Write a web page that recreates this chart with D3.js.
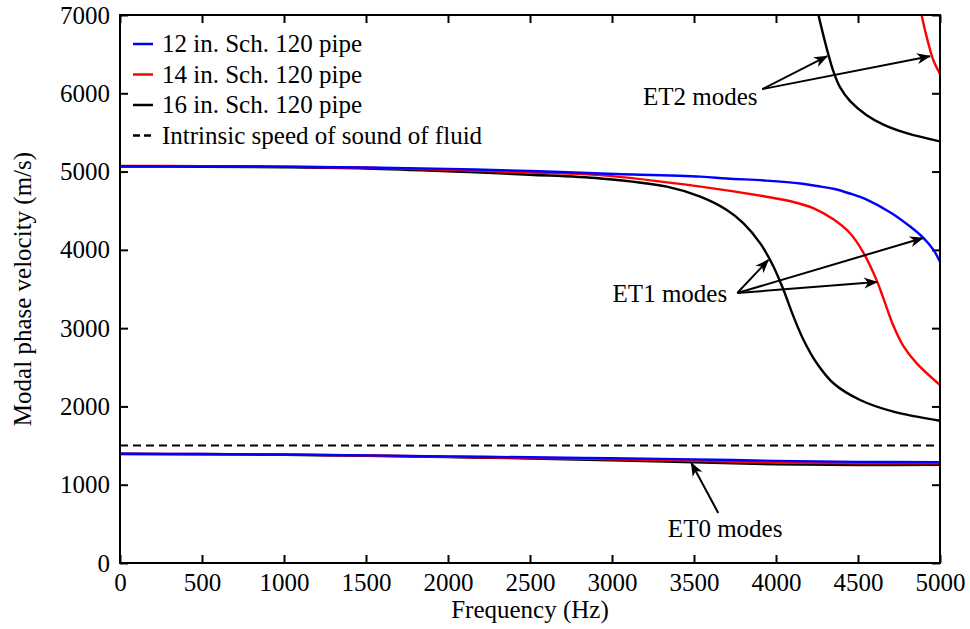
<!DOCTYPE html>
<html>
<head>
<meta charset="utf-8">
<script src="https://cdn.jsdelivr.net/npm/d3@7/dist/d3.min.js"></script>
<style>
  body { margin: 0; background: #fff; }
  svg text { font-family: "Liberation Serif", "Tinos", "Times New Roman", "DejaVu Serif", serif !important; font-size: 25px !important; fill: #000; }
</style>
</head>
<body>
<script>
// values
let xTicks = [0, 500, 1000, 1500, 2000, 2500, 3000, 3500, 4000, 4500, 5000]
let yTicks = [0, 1000, 2000, 3000, 4000, 5000, 6000, 7000]

let seriesNames = ["12 in. Sch. 120 pipe", "14 in. Sch. 120 pipe", "16 in. Sch. 120 pipe"]
let seriesColors = ["#0000ff", "#ff0000", "#000000"]
let fluidSpeed = 1500
let fluidLabel = "Intrinsic speed of sound of fluid"

// ET1 modes
let et1Freq12 = [0, 500, 1000, 1500, 2000, 2500, 2930, 3540, 3700, 3940, 4150, 4250, 4350, 4450, 4550, 4700, 4820, 4900, 4960, 5000]
let et1Vel12 = [5068, 5066, 5062, 5052, 5035, 5008, 4975, 4935, 4911, 4885, 4848, 4815, 4780, 4720, 4645, 4475, 4295, 4150, 4000, 3850]

let et1Freq14 = [0, 500, 1000, 1500, 2000, 2500, 2930, 3540, 3940, 4100, 4230, 4350, 4450, 4530, 4614, 4655, 4716, 4777, 4858, 5000]
let et1Vel14 = [5072, 5070, 5062, 5048, 5022, 4988, 4954, 4807, 4679, 4615, 4531, 4390, 4215, 3975, 3610, 3380, 3030, 2770, 2550, 2274]

let et1Freq16 = [0, 500, 1000, 1500, 2000, 2500, 2930, 3335, 3538, 3700, 3802, 3904, 3985, 4046, 4107, 4168, 4249, 4350, 4513, 4716, 5000]
let et1Vel16 = [5065, 5062, 5055, 5040, 5005, 4960, 4911, 4807, 4679, 4509, 4339, 4083, 3785, 3487, 3147, 2849, 2551, 2296, 2082, 1933, 1817]

// ET2 modes (14 in. and 16 in. only)
let et2Freq14 = [4875, 4888, 4929, 4959, 5000]
let et2Vel14 = [7180, 7000, 6638, 6425, 6247]

let et2Freq16 = [4245, 4259, 4290, 4320, 4350, 4391, 4452, 4553, 4655, 4797, 5000]
let et2Vel16 = [7140, 7000, 6730, 6490, 6280, 6075, 5900, 5720, 5600, 5490, 5385]

// ET0 modes
let et0Freq = [0, 500, 1000, 1500, 2000, 2500, 3000, 3500, 4000, 4500, 5000]
let et0Vel12 = [1395, 1392, 1385, 1375, 1362, 1350, 1338, 1324, 1305, 1292, 1288]
let et0Vel14 = [1397, 1392, 1384, 1373, 1358, 1342, 1325, 1306, 1282, 1272, 1275]
let et0Vel16 = [1392, 1388, 1381, 1370, 1352, 1335, 1312, 1286, 1260, 1250, 1255]

// annotations, in data units: label anchor, arrow tail, arrow heads
let notes = [
    { text: "ET2 modes", x: 3538, y: 5847, from: [3916, 6053], to: [[4312, 6474], [4939, 6474]] },
    { text: "ET1 modes", x: 3353, y: 3334, from: [3764, 3449], to: [[3953, 3870], [4896, 4151], [4616, 3589]] },
    { text: "ET0 modes", x: 3690, y: 332, from: [3648, 639], to: [[3484, 1277]] }
]

let W = 970, H = 629
let m = { left: 120, right: 30, top: 15, bottom: 66 }

let svg = d3.select("body")
    .append("svg")
    .attr("width", W)
    .attr("height", H)

let x = d3.scaleLinear().domain([0, 5000]).range([m.left, W - m.right])
let y = d3.scaleLinear().domain([0, 7000]).range([H - m.bottom, m.top])

let defs = svg.append("defs")
defs.append("clipPath")
    .attr("id", "clip")
    .append("rect")
    .attr("x", x(0)).attr("y", y(7000))
    .attr("width", x(5000) - x(0))
    .attr("height", y(0) - y(7000))

defs.append("marker")
    .attr("id", "head")
    .attr("viewBox", "-14 -6 16 12")
    .attr("markerWidth", 16)
    .attr("markerHeight", 12)
    .attr("markerUnits", "userSpaceOnUse")
    .attr("refX", 0).attr("refY", 0)
    .attr("orient", "auto")
    .append("path")
    .attr("d", "M1,0 L-13,-5.5 L-9,0 L-13,5.5 Z")
    .attr("fill", "#000")

// axes, ticks inward on all four sides
let tick = 8
let fmt = d3.format("d")
svg.append("g")
    .attr("transform", "translate(0," + y(0) + ")")
    .call(d3.axisBottom(x).tickValues(xTicks).tickSize(-tick).tickPadding(10).tickFormat(fmt))
svg.append("g")
    .attr("transform", "translate(0," + y(7000) + ")")
    .call(d3.axisTop(x).tickValues(xTicks).tickSize(-tick).tickFormat(""))
svg.append("g")
    .attr("transform", "translate(" + x(0) + ",0)")
    .call(d3.axisLeft(y).tickValues(yTicks).tickSize(-tick).tickPadding(10).tickFormat(fmt))
svg.append("g")
    .attr("transform", "translate(" + x(5000) + ",0)")
    .call(d3.axisRight(y).tickValues(yTicks).tickSize(-tick).tickFormat(""))

svg.selectAll(".domain").remove()
svg.selectAll(".tick line").attr("stroke", "#000").attr("stroke-width", 2)

let line = d3.line()
    .x(d => x(d[0]))
    .y(d => y(d[1]))
    .curve(d3.curveCatmullRom.alpha(0.5))

let curves = [
    [et0Freq, et0Vel16, 2], [et0Freq, et0Vel14, 1], [et0Freq, et0Vel12, 0],
    [et1Freq16, et1Vel16, 2], [et1Freq14, et1Vel14, 1], [et1Freq12, et1Vel12, 0],
    [et2Freq16, et2Vel16, 2], [et2Freq14, et2Vel14, 1]
]

let plot = svg.append("g").attr("clip-path", "url(#clip)")

plot.append("line")
    .attr("x1", x(0)).attr("x2", x(5000))
    .attr("y1", y(fluidSpeed)).attr("y2", y(fluidSpeed))
    .attr("stroke", "#000")
    .attr("stroke-width", 2)
    .attr("stroke-dasharray", "8,5")

plot.selectAll("path.curve")
    .data(curves)
    .enter()
    .append("path")
    .attr("class", "curve")
    .attr("d", c => line(d3.zip(c[0], c[1])))
    .attr("fill", "none")
    .attr("stroke", c => seriesColors[c[2]])
    .attr("stroke-width", 2.4)

// frame
svg.append("rect")
    .attr("x", x(0)).attr("y", y(7000))
    .attr("width", x(5000) - x(0))
    .attr("height", y(0) - y(7000))
    .attr("fill", "none")
    .attr("stroke", "#000")
    .attr("stroke-width", 2)

// annotations
for (let n of notes) {
    for (let t of n.to) {
        svg.append("line")
            .attr("x1", x(n.from[0])).attr("y1", y(n.from[1]))
            .attr("x2", x(t[0])).attr("y2", y(t[1]))
            .attr("stroke", "#000")
            .attr("stroke-width", 2)
            .attr("marker-end", "url(#head)")
    }
    svg.append("text")
        .attr("x", x(n.x)).attr("y", y(n.y))
        .attr("text-anchor", "middle")
        .text(n.text)
}

// legend
let legendItems = seriesNames.map((s, i) => ({ name: s, color: seriesColors[i], dash: null }))
legendItems.push({ name: fluidLabel, color: "#000", dash: "7,4" })

let legend = svg.append("g").attr("transform", "translate(133,44)")
legendItems.forEach((d, i) => {
    let g = legend.append("g").attr("transform", "translate(0," + (i * 30.5) + ")")
    g.append("line")
        .attr("x1", 0).attr("x2", 20)
        .attr("stroke", d.color)
        .attr("stroke-width", 2.5)
        .attr("stroke-dasharray", d.dash)
    g.append("text")
        .attr("x", 29).attr("y", 8)
        .text(d.name)
})

// axis titles
svg.append("text")
    .attr("x", (x(0) + x(5000)) / 2)
    .attr("y", 618)
    .attr("text-anchor", "middle")
    .text("Frequency (Hz)")

svg.append("text")
    .attr("transform", "rotate(-90)")
    .attr("x", -(y(0) + y(7000)) / 2)
    .attr("y", 31)
    .attr("text-anchor", "middle")
    .text("Modal phase velocity (m/s)")
</script>
</body>
</html>
